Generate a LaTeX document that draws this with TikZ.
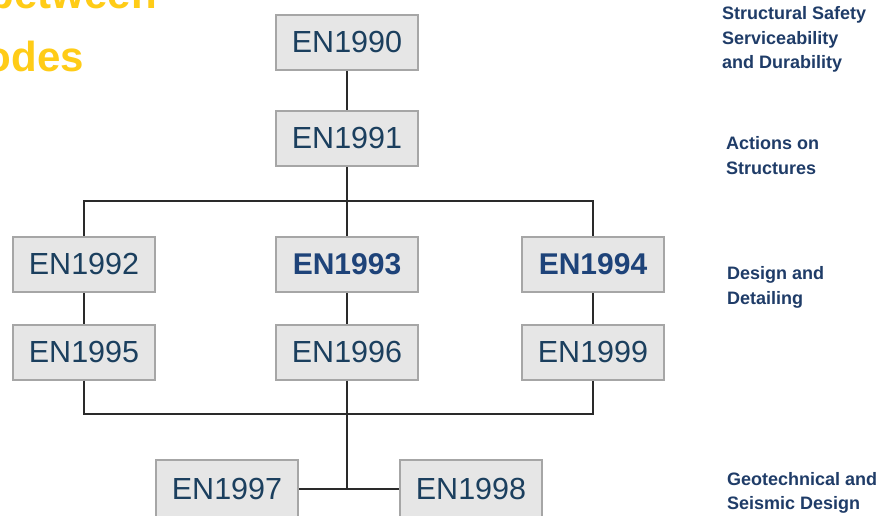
\documentclass[tikz,border=0pt]{standalone}
\usepackage{fontspec}
\setmainfont{Liberation Sans}
\definecolor{boxfill}{HTML}{E6E6E6}
\definecolor{boxline}{HTML}{A6A6A6}
\definecolor{boxtext}{HTML}{1B3F5E}
\definecolor{boldtext}{HTML}{1E4379}
\definecolor{lbltext}{HTML}{1F3C68}
\definecolor{connline}{HTML}{2A2A2A}
\definecolor{titleyellow}{HTML}{FFCC17}
\begin{document}
\begin{tikzpicture}[x=1pt,y=-1pt,
  enbox/.style={draw=boxline, fill=boxfill, line width=2pt, minimum width=142pt, minimum height=55pt, inner sep=0pt, text=boxtext, font=\fontsize{30.5}{32}\selectfont},
  enbold/.style={enbox, text=boldtext, font=\fontsize{30}{32}\selectfont\bfseries},
  lbl/.style={anchor=north west, align=left, inner sep=0pt, text=lbltext, font=\fontsize{18}{24.5}\selectfont\bfseries},
  ttl/.style={anchor=base east, inner sep=0pt, text=titleyellow, font=\fontsize{42}{48}\selectfont\bfseries},
  conn/.style={line width=1.1pt, draw=connline}]
\useasboundingbox (0,0) rectangle (884,516);
\clip (0,0) rectangle (884,516);
\fill[white] (0,0) rectangle (884,516);
% title fragments
\node[ttl] (t1) at (157,9) {between};
\node[ttl] (t2) at (84,72) {Codes};
% boxes
\node[enbox] (e90) at (347,42.5) {EN1990};
\node[enbox] (e91) at (347,138.5) {EN1991};
\node[enbox] (e92) at (84,264.5) {EN1992};
\node[enbold] (e93) at (347,264.5) {EN1993};
\node[enbold] (e94) at (593,264.5) {EN1994};
\node[enbox] (e95) at (84,352) {EN1995};
\node[enbox] (e96) at (347,352) {EN1996};
\node[enbox] (e99) at (593,352) {EN1999};
\node[enbox, minimum height=58pt] (e97) at (227,489) {EN1997};
\node[enbox, minimum height=58pt] (e98) at (471,489) {EN1998};
% junction coordinates
\coordinate (top) at (347,201);
\coordinate (bot) at (347,414);
% connectors
\draw[conn] (e90) -- (e91);
\draw[conn] (e91) -- (e93);
\draw[conn] (e92.north) -- (e92.north |- top) -- (e94.north |- top) -- (e94.north);
\draw[conn] (e92) -- (e95);
\draw[conn] (e93) -- (e96);
\draw[conn] (e94) -- (e99);
\draw[conn] (e95.south) -- (e95.south |- bot) -- (e99.south |- bot) -- (e99.south);
\draw[conn] (e96.south) -- (bot) -- (bot |- e97.east);
\draw[conn] (e97) -- (e98);
% right labels
\node[lbl] (l1) at (722,6.5) {Structural Safety\\Serviceability\\and Durability};
\node[lbl] (l2) at (726,136.5) {Actions on\\Structures};
\node[lbl] (l3) at (727,266.5) {Design and\\Detailing};
\node[lbl] (l4) at (727,472) {Geotechnical and\\Seismic Design};
\end{tikzpicture}
\end{document}
